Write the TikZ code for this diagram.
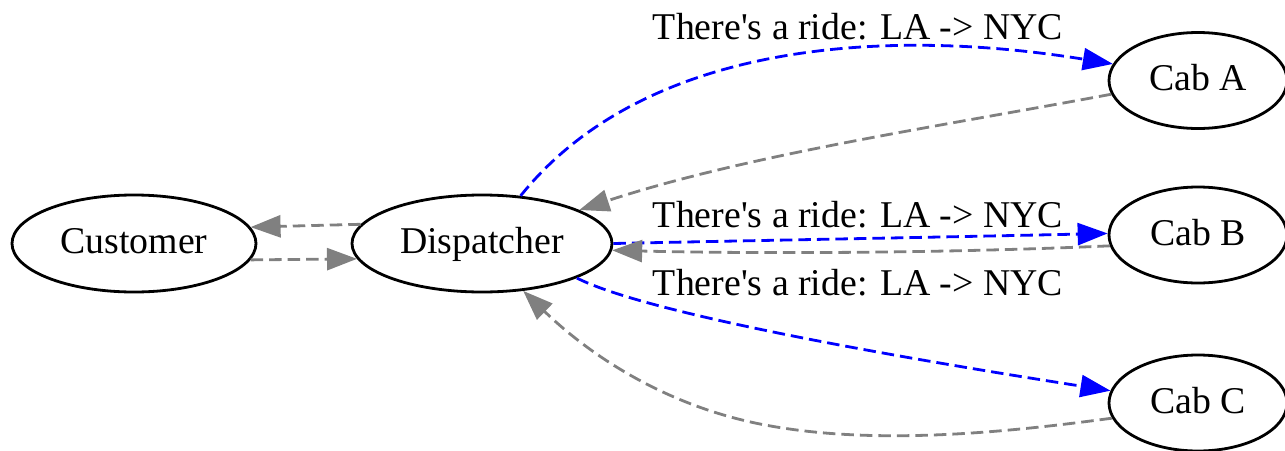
\documentclass[tikz,border=0pt]{standalone}
\usepackage{fontspec}
\setmainfont{Liberation Serif}
\usetikzlibrary{arrows.meta,shapes.geometric}
\definecolor{edgegray}{RGB}{128,128,128}
\definecolor{edgeblue}{RGB}{0,0,255}
\begin{document}
\begin{tikzpicture}[x=1pt,y=-1pt,
  every node/.style={font=\fontsize{37.8}{45}\selectfont},
  state/.style={draw=black, line width=2.8pt, ellipse, inner sep=0pt,
    text height=28.3pt, text depth=8.3pt},
  link/.style={line width=2.8pt, dash pattern=on 12.5pt off 6pt,
    -{Triangle[length=30pt,width=22pt]}},
  grayl/.style={link, draw=edgegray},
  bluel/.style={link, draw=edgeblue},
  lab/.style={anchor=base, inner sep=0pt}]
\useasboundingbox (0,0) rectangle (1285,450);

\node[state, minimum width=244pt, minimum height=97pt] (cust) at (134,243.5) {Customer};
\node[state, minimum width=260pt, minimum height=97pt] (disp) at (482,243.5) {Dispatcher};
\node[state, minimum width=178pt, minimum height=96pt] (caba) at (1198,80.5) {Cab A};
\node[state, minimum width=178pt, minimum height=96pt] (cabb) at (1198,235) {Cab B};
\node[state, minimum width=178pt, minimum height=96pt] (cabc) at (1198,403) {Cab C};

\draw[grayl] (disp.171.8) -- (cust.8.7);
\draw[grayl] (cust.-8.7) -- (disp.187.8);

\draw[bluel] (disp.51) .. controls (644,42) and (885,27) .. (caba.169);
\draw[grayl] (caba.189.4) .. controls (930,128) and (747,155) .. (disp.19.4);

\draw[bluel] (disp.0.7) .. controls (780,240) and (950,237) .. (cabb.179);
\draw[grayl] (cabb.187.3) .. controls (950,253) and (765,254) .. (disp.-3.8);

\draw[bluel] (disp.-20.2) .. controls (640,310) and (850,350) .. (cabc.172.7);
\draw[grayl] (cabc.190.5) .. controls (1002,433) and (870,446) .. (760,424)
   .. controls (670,406) and (595,360) .. (disp.-49.5);

\node[lab] (la) at (858,39.5) {There\textquotesingle s a ride: LA -> NYC};
\node[lab] (lb) at (858,227) {There\textquotesingle s a ride: LA -> NYC};
\node[lab] (lc) at (858,295) {There\textquotesingle s a ride: LA -> NYC};
\end{tikzpicture}
\end{document}
